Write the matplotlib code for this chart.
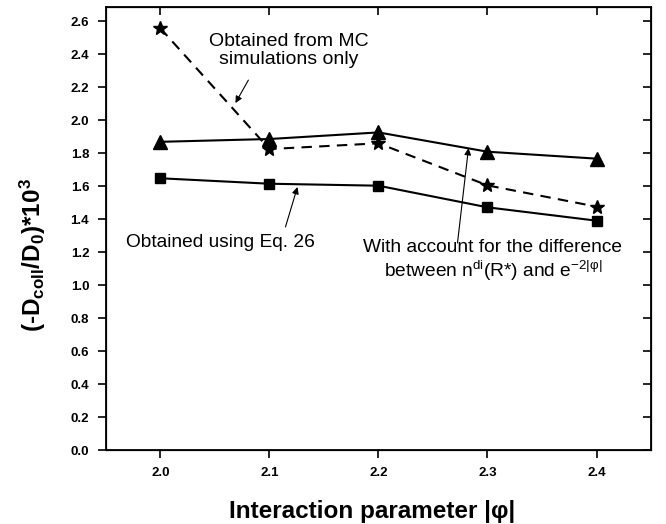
import matplotlib
matplotlib.use("Agg")
import matplotlib.pyplot as plt

plt.rcParams['font.family'] = ['Liberation Sans', 'DejaVu Sans']
plt.rcParams['mathtext.fontset'] = 'custom'
plt.rcParams['mathtext.rm'] = 'Liberation Sans'
plt.rcParams['mathtext.it'] = 'Liberation Sans:italic'
plt.rcParams['mathtext.bf'] = 'Liberation Sans:bold'

phi = [2.0, 2.1, 2.2, 2.3, 2.4]
with_account = [1.868, 1.885, 1.925, 1.808, 1.766]   # triangles
mc_only = [2.556, 1.824, 1.859, 1.604, 1.475]        # stars
eq26 = [1.647, 1.614, 1.602, 1.471, 1.390]           # squares

xticks = [2.0, 2.1, 2.2, 2.3, 2.4]
yticks = [0.0, 0.2, 0.4, 0.6, 0.8, 1.0, 1.2, 1.4, 1.6, 1.8, 2.0, 2.2, 2.4, 2.6]

fig = plt.figure(figsize=(6.66, 5.24), dpi=100)
ax = fig.add_axes([0.159, 0.1412, 0.8185, 0.8454])

ax.plot(phi, with_account, '-', color='black', lw=1.5, marker='^', ms=9.5)
ax.plot(phi, mc_only, '--', color='black', lw=1.5, marker='*', ms=10, dashes=(5, 3.5))
ax.plot(phi, eq26, '-', color='black', lw=1.5, marker='s', ms=7.5)

ax.set_xlim(1.95, 2.45)
ax.set_ylim(0.0, 2.685)
ax.set_xticks(xticks)
ax.set_yticks(yticks)
ax.set_xticklabels([f"{v:.1f}" for v in xticks], fontweight='bold', fontsize=9.5)
ax.set_yticklabels([f"{v:.1f}" for v in yticks], fontweight='bold', fontsize=9.5)
ax.tick_params(direction='out', length=6, width=1.2)
ax.tick_params(axis='x', pad=6)
ax.tick_params(axis='y', pad=6)
for s in ax.spines.values():
    s.set_linewidth(1.3)

# mirrored ticks pointing inward
axt = ax.twiny()
axt.set_xlim(ax.get_xlim())
axt.set_xticks(xticks)
axt.set_xticklabels([])
axt.tick_params(direction='in', length=6, width=1.2)
axr = ax.twinx()
axr.set_ylim(ax.get_ylim())
axr.set_yticks(yticks)
axr.set_yticklabels([])
axr.tick_params(direction='in', length=6, width=1.2)

ax.set_xlabel('Interaction parameter |φ|', fontsize=17.5, fontweight='bold')
ax.xaxis.set_label_coords(0.488, -0.113)
ax.set_ylabel(r'(-D$_{\mathbf{coll}}$/D$_{\mathbf{0}}$)*10$^{\mathbf{3}}$', fontsize=17.5,
              fontweight='bold')
ax.yaxis.set_label_coords(-0.106, 0.44)

arrow = dict(arrowstyle='-|>', color='black', lw=0.8, mutation_scale=10,
             shrinkA=0, shrinkB=0)
ax.text(2.118, 2.42, 'Obtained from MC\nsimulations only',
        ha='center', va='center', fontsize=14, linespacing=1.1)
ax.annotate('', xy=(2.0688, 2.103), xytext=(2.0807, 2.242), arrowprops=arrow)
ax.text(2.055, 1.255, 'Obtained using Eq. 26', ha='center', va='center', fontsize=13.8)
ax.annotate('', xy=(2.1257, 1.594), xytext=(2.1147, 1.352), arrowprops=arrow)
ax.text(2.305, 1.145, 'With account for the difference\n'
        r'between n$^{\mathrm{di}}$(R*) and e$^{\mathrm{-2|φ|}}$',
        ha='center', va='center', fontsize=13.8, linespacing=1.2)
ax.annotate('', xy=(2.2826, 1.830), xytext=(2.2725, 1.255), arrowprops=arrow)

fig.savefig('out.png', dpi=100)
